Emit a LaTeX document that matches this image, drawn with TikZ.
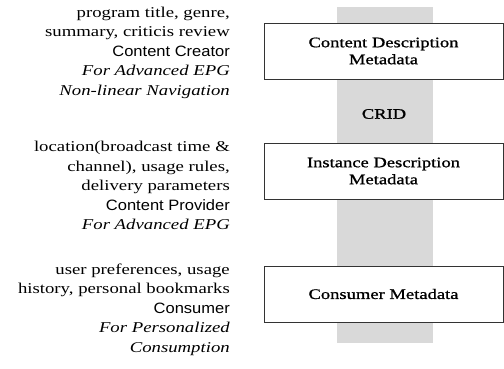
\documentclass[tikz,border=0pt]{standalone}
\usepackage{fontspec}
\setmainfont{Liberation Serif}[FakeStretch=1.25]
\setsansfont{Liberation Sans}[FakeStretch=1.1]
\newfontfamily\boxfont{Liberation Serif}[FakeStretch=1.28, FakeBold=1]
\usetikzlibrary{positioning}
\tikzset{
  metabox/.style={draw=black!80, fill=white, line width=0.8pt, minimum width=239pt,
    minimum height=56pt, align=center, inner sep=2pt,
    font=\boxfont\fontsize{14.5}{17}\selectfont},
  role text/.style={anchor=east, align=right, inner sep=0pt,
    font=\fontsize{15}{19.5}\selectfont},
}

\begin{document}
\begin{tikzpicture}[x=1pt,y=-1pt]
  \useasboundingbox (0,0) rectangle (504,369);

  % Gray band behind the boxes
  \fill[black!15] (337,7) rectangle (433,343);

  % Metadata boxes
  \node[metabox] (content) at (383.5,51) {Content Description\\Metadata};
  \node[metabox] (instance) at (383.5,171) {Instance Description\\Metadata};
  \node[metabox] (consumer) at (383.5,294) {Consumer Metadata};

  % CRID between first two boxes
  \node[font=\boxfont\fontsize{14.5}{17}\selectfont] (crid) at (384,114) {CRID};

  % Descriptions on the left
  \node[role text] (desc1) at (230,52.5) {program title, genre,\\
    summary, criticis review\\
    \textsf{Content Creator}\\
    \textit{For Advanced EPG}\\
    \textit{Non-linear Navigation}};
  \node[role text] (desc2) at (230,185.5) {location(broadcast time \&\\
    channel), usage rules,\\
    delivery parameters\\
    \textsf{Content Provider}\\
    \textit{For Advanced EPG}};
  \node[role text] (desc3) at (230,309.5) {user preferences, usage\\
    history, personal bookmarks\\
    \textsf{Consumer}\\
    \textit{For Personalized}\\
    \textit{Consumption}};
\end{tikzpicture}
\end{document}
